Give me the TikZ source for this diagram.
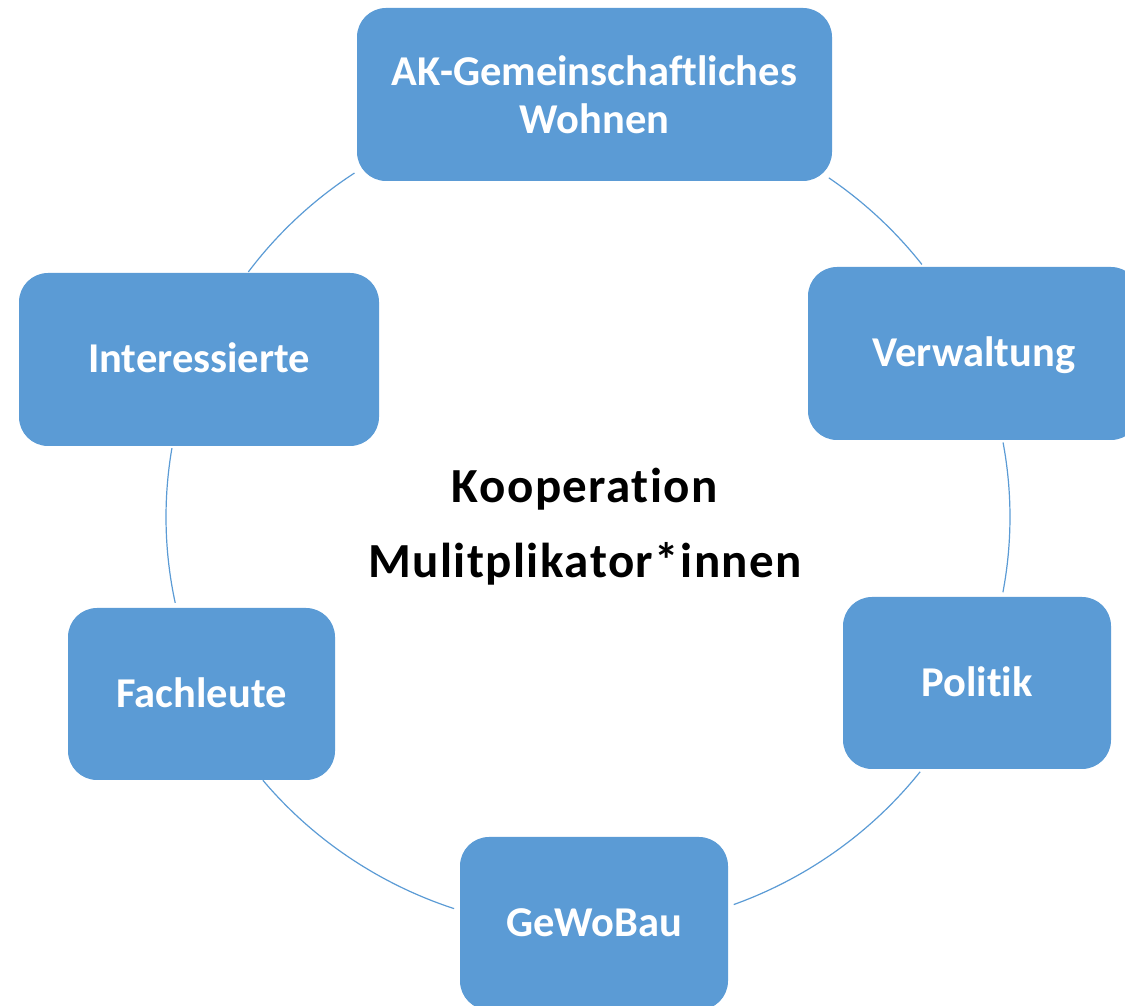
\documentclass[tikz,border=0pt]{standalone}
\usepackage{fontspec}
\setmainfont{Carlito}[Ligatures=CommonOff]
\definecolor{boxblue}{HTML}{5B9BD5}
\tikzset{
  cyclebox/.style={draw=none, fill=boxblue, rounded corners=29pt, minimum height=173pt,
    text=white, font=\bfseries\fontsize{42.5}{48}\selectfont, inner sep=0pt, align=center},
  oneline/.style={text height=27pt, text depth=0pt},
  conn/.style={draw=boxblue, line width=1.2pt},
  centertext/.style={font=\bfseries\fontsize{49}{58}\selectfont\addfontfeature{LetterSpace=3}, text=black, anchor=base, inner sep=0pt}
}
\begin{document}
\begin{tikzpicture}[x=1pt,y=1pt]
\useasboundingbox (0,0) rectangle (1125,1006);
\clip (0,0) rectangle (1125,1006);
\coordinate (c) at (588,489);
% arcs
\draw[conn] (c) ++(55.2:422pt and 413pt) arc[start angle=55.2, end angle=37.7, x radius=422pt, y radius=413pt];
\draw[conn] (c) ++(10.4:422pt and 413pt) arc[start angle=10.4, end angle=-10.5, x radius=422pt, y radius=413pt];
\draw[conn] (c) ++(-38.1:422pt and 413pt) arc[start angle=-38.1, end angle=-69.8, x radius=422pt, y radius=413pt];
\draw[conn] (c) ++(-108.5:422pt and 413pt) arc[start angle=-108.5, end angle=-140.4, x radius=422pt, y radius=413pt];
\draw[conn] (c) ++(-168:422pt and 413pt) arc[start angle=-168, end angle=-189.6, x radius=422pt, y radius=413pt];
\draw[conn] (c) ++(143.6:422pt and 413pt) arc[start angle=143.6, end angle=123.6, x radius=422pt, y radius=413pt];
% boxes
\node[cyclebox, minimum width=475pt] (ak) at (594.5,911.5) {AK-Gemeinschaftliches\\Wohnen};
\node[cyclebox, oneline, minimum width=332pt] (verw) at (974,652.5) {Verwaltung};
\node[cyclebox, oneline, minimum width=268pt, minimum height=172pt] (pol) at (977,323) {Politik};
\node[cyclebox, oneline, minimum width=268pt] (gewo) at (594,82.5) {GeWoBau};
\node[cyclebox, oneline, minimum width=267pt, minimum height=172pt] (fach) at (201.5,312) {Fachleute};
\node[cyclebox, oneline, minimum width=360pt] (inter) at (199,646.5) {Interessierte};
% center text
\node[centertext] (koop) at (585,503) {Kooperation};
\node[centertext] (multi) at (585,428) {Mulitplikator*innen};
\end{tikzpicture}
\end{document}
